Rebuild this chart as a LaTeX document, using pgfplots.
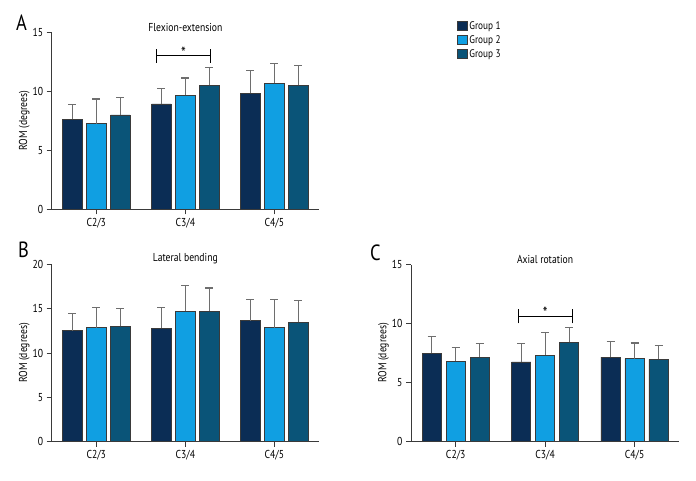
\documentclass[border=0pt]{standalone}
\usepackage{fontspec}
\setmainfont{PT Sans}[FakeStretch=0.84]
\usepackage{pgfplots}
\pgfplotsset{compat=1.18}

\definecolor{gone}{HTML}{0B2D55}
\definecolor{gtwo}{HTML}{109FE2}
\definecolor{gthree}{HTML}{0A5478}
\definecolor{errgray}{HTML}{6E6E6E}
\definecolor{axgray}{HTML}{3A3A3A}

\pgfplotsset{
  panel/.style={
    scale only axis,
    width=267.3pt, height=177pt,
    anchor=south west,
    ybar=4.7pt, bar width=19.3pt,
    axis lines=left,
    axis line style={-, axgray, line width=0.9pt},
    xmin=-0.5, xmax=2.5,
    ymin=0,
    xtick={0,1,2},
    xticklabels={C2/3, C3/4, C4/5},
    tick align=outside,
    major tick length=5pt,
    tick style={axgray, line width=0.9pt},
    /pgf/number format/assume math mode=true,
    ticklabel style={font=\fontsize{11.5}{12}\selectfont},
    ylabel={ROM (degrees)},
    ylabel style={at={(axis description cs:0,0.5)}, anchor=center, yshift=27.5pt, font=\fontsize{11.5}{12}\selectfont},
    title style={at={(0.5,1)}, anchor=south, yshift=-9pt, font=\fontsize{11.5}{12}\selectfont},
    error bars/y dir=plus,
    error bars/y explicit,
    error bars/error bar style={errgray, line width=1.3pt},
    error bars/error mark options={rotate=90, mark size=4pt, errgray, line width=1.3pt},
  },
  b1/.style={fill=gone, draw=axgray, line width=0.7pt},
  b2/.style={fill=gtwo, draw=axgray, line width=0.7pt},
  b3/.style={fill=gthree, draw=axgray, line width=0.7pt},
}

\begin{document}
\begin{tikzpicture}
\path[use as bounding box] (0,0) rectangle (696pt,480pt);

% A: flexion-extension
\begin{axis}[panel, at={(51.7pt,270.7pt)}, ymax=15, ytick={0,5,10,15},
  title={Flexion-extension},
  legend style={at={(axis description cs:1.516,1.075)}, anchor=north west, draw=none,
    fill=none, font=\fontsize{11}{12}\selectfont, row sep=0.8pt, inner sep=0pt,
    cells={anchor=west}},
  legend image code/.code={\draw[#1] (0pt,-4.6pt) rectangle (9.6pt,4.8pt);},
]
\addplot[b1] coordinates {(0,7.63) +- (0,1.27) (1,8.93) +- (0,1.30) (2,9.83) +- (0,1.95)};
\addplot[b2] coordinates {(0,7.26) +- (0,2.09) (1,9.66) +- (0,1.47) (2,10.70) +- (0,1.64)};
\addplot[b3] coordinates {(0,8.00) +- (0,1.46) (1,10.50) +- (0,1.50) (2,10.50) +- (0,1.68)};
\legend{Group 1, Group 2, Group 3}
\draw[black, line width=0.8pt] (axis cs:0.68,13.02) -- (axis cs:1.277,13.02);
\draw[black, line width=0.8pt] (axis cs:0.68,12.42) -- (axis cs:0.68,13.62);
\draw[black, line width=0.8pt] (axis cs:1.277,12.42) -- (axis cs:1.277,13.62);
\node[font=\fontsize{16}{16}\selectfont, inner sep=0pt] at (axis cs:0.98,13.3) {*};
\end{axis}

% B: lateral bending
\begin{axis}[panel, at={(51.7pt,38.5pt)}, ymax=20, ytick={0,5,10,15,20},
  title={Lateral bending}]
\addplot[b1] coordinates {(0,12.54) +- (0,1.92) (1,12.81) +- (0,2.34) (2,13.67) +- (0,2.41)};
\addplot[b2] coordinates {(0,12.88) +- (0,2.30) (1,14.73) +- (0,2.90) (2,12.88) +- (0,3.20)};
\addplot[b3] coordinates {(0,13.00) +- (0,1.99) (1,14.73) +- (0,2.63) (2,13.45) +- (0,2.52)};
\end{axis}

% C: axial rotation
\begin{axis}[panel, at={(411pt,38.5pt)}, width=268.3pt, ymax=15, ytick={0,5,10,15},
  title={Axial rotation}]
\addplot[b1] coordinates {(0,7.46) +- (0,1.44) (1,6.75) +- (0,1.55) (2,7.15) +- (0,1.35)};
\addplot[b2] coordinates {(0,6.81) +- (0,1.13) (1,7.32) +- (0,1.92) (2,7.03) +- (0,1.33)};
\addplot[b3] coordinates {(0,7.15) +- (0,1.15) (1,8.39) +- (0,1.27) (2,6.95) +- (0,1.21)};
\draw[black, line width=0.8pt] (axis cs:0.70,10.62) -- (axis cs:1.30,10.62);
\draw[black, line width=0.8pt] (axis cs:0.70,10.02) -- (axis cs:0.70,11.22);
\draw[black, line width=0.8pt] (axis cs:1.30,10.02) -- (axis cs:1.30,11.22);
\node[font=\fontsize{16}{16}\selectfont, inner sep=0pt] at (axis cs:1.0,10.9) {*};
\end{axis}

% panel letters
\node[font=\fontsize{22}{24}\selectfont, inner sep=0pt] at (21.5pt,457pt) {A};
\node[font=\fontsize{22}{24}\selectfont, inner sep=0pt] at (23.5pt,230pt) {B};
\node[font=\fontsize{22}{24}\selectfont, inner sep=0pt] at (375.5pt,227.3pt) {C};
\end{tikzpicture}
\end{document}
